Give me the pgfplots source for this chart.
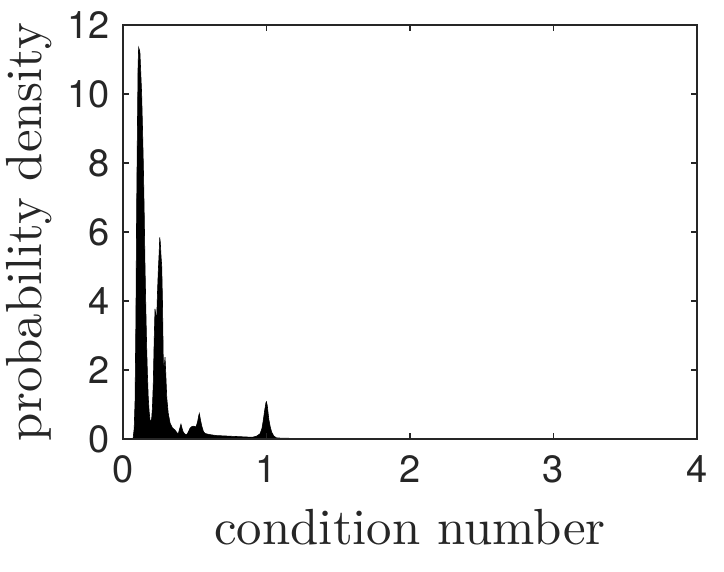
\documentclass[border=0pt]{standalone}
\usepackage{fontspec}
\usepackage{pgfplots}
\pgfplotsset{compat=1.18}
\usetikzlibrary{calc}
\newfontfamily\heros{TeX Gyre Heros}
\newfontfamily\lmten{lmroman10-regular.otf}
\definecolor{axgray}{HTML}{262626}
\pgfplotstableread{
x y
0.070 0
0.078 0.3
0.084 1.1
0.090 3.5
0.095 6.6
0.100 8.8
0.105 10.8
0.109 11.35
0.113 11.3
0.118 11.2
0.122 10.8
0.126 10.4
0.130 10.0
0.136 9.0
0.142 7.9
0.148 6.5
0.153 5.1
0.159 3.8
0.165 2.65
0.170 1.9
0.176 1.2
0.182 0.8
0.188 0.55
0.194 0.5
0.200 0.6
0.205 0.9
0.211 1.6
0.217 2.8
0.223 3.77
0.229 3.6
0.235 3.5
0.240 4.2
0.246 4.87
0.252 5.4
0.256 5.84
0.260 5.7
0.265 5.3
0.270 5.0
0.275 4.0
0.281 2.2
0.287 2.1
0.293 2.37
0.299 1.8
0.305 1.2
0.315 0.75
0.328 0.46
0.345 0.32
0.362 0.26
0.378 0.17
0.386 0.16
0.395 0.3
0.404 0.43
0.412 0.3
0.420 0.2
0.432 0.14
0.444 0.12
0.455 0.2
0.467 0.31
0.480 0.36
0.490 0.37
0.500 0.36
0.509 0.35
0.520 0.5
0.528 0.68
0.532 0.74
0.538 0.6
0.548 0.39
0.560 0.22
0.571 0.16
0.600 0.13
0.650 0.1
0.700 0.09
0.800 0.07
0.900 0.05
0.930 0.08
0.955 0.15
0.968 0.3
0.978 0.55
0.988 0.85
0.996 1.05
1.000 1.08
1.006 0.95
1.012 0.72
1.017 0.55
1.026 0.35
1.036 0.2
1.050 0.09
1.070 0.03
1.200 0.015
2.000 0.01
3.000 0.005
4.000 0
}\dens
\begin{document}
\begin{tikzpicture}
\begin{axis}[
  name=ax,
  scale only axis,
  width=287pt, height=207pt,
  xmin=0, xmax=4, ymin=0, ymax=12,
  xtick={0,1,2,3,4}, ytick={0,2,4,6,8,10,12},
  axis on top,
  axis line style={axgray, line width=0.9pt},
  every tick/.style={axgray, line width=0.9pt},
  major tick length=3pt,
  tick align=inside,
  /pgf/number format/assume math mode=true,
  tick label style={font=\heros\fontsize{19}{19}\selectfont, text=axgray, inner sep=0pt},
  xticklabel style={anchor=north, yshift=-8pt},
  yticklabel style={anchor=east, xshift=-6.5pt},
]
\addplot[fill=black, draw=black, line width=0.3pt] table[x=x,y=y] {\dens} \closedcycle;
\end{axis}
\node[anchor=base, text=axgray, font=\lmten\fontsize{25.4}{30}\selectfont] at ($(ax.south)+(0,-53pt)$) {condition number};
\node[anchor=base, rotate=90, text=axgray, font=\lmten\fontsize{25.4}{30}\selectfont] at ($(ax.west)+(-40.5pt,0)$) {probability density};
\pgfresetboundingbox
\path ($(ax.south west)+(-61.5pt,-66.5pt)$) rectangle ($(ax.north east)+(13.5pt,12.5pt)$);
\end{tikzpicture}
\end{document}
